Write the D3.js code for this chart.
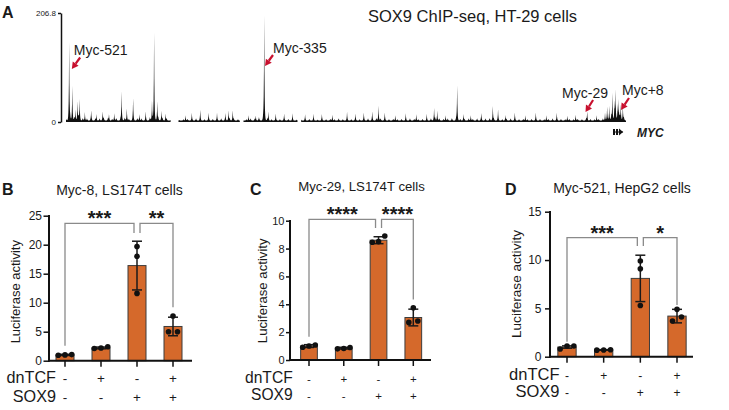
<!DOCTYPE html>
<html><head><meta charset="utf-8">
<script src="https://cdn.jsdelivr.net/npm/d3@7"></script>
<style>
body{margin:0;background:#fff}
svg{display:block}
text{font-family:"Liberation Sans",Arial,Helvetica,sans-serif;fill:#1a1a1a}
</style>
</head><body>
<svg id="c" width="729" height="410"></svg>
<script>
// ================= Panel A data =================
const trackTitle = "SOX9 ChIP-seq, HT-29 cells";
const trackMax = 206.8;
const trackTickLabels = ["0", "206.8"];
const trackKbRange = [-524, 10];
const bgStartKb = -524, bgStepKb = 4;
const bgSignal = [
  5,9,8,10,7,6,8,5,6,7,
  6,5,7,6,8,5,6,7,6,5,
  9,10,8,7,5,3,2,2,4,5,
  4,6,5,4,7,5,4,6,5,6,
  5,4,3,4,6,5,9,7,5,4,
  5,4,6,5,4,3,5,4,5,4,
  3,5,4,5,4,6,4,5,4,5,
  4,5,6,5,7,6,5,4,5,4,
  5,4,6,5,4,5,4,6,7,6,
  5,6,7,6,5,4,6,5,6,5,
  6,7,5,6,4,5,6,5,4,5,
  4,5,6,5,4,5,6,4,5,4,
  5,4,5,4,6,5,4,5,6,9,
  14,16,12,8
];
const gapsKb = [[-424, -417], [-358, -355], [-303, -300]];
const peakKb = [
  -521,-518,-515,-513,-511,-506,-500,-495,-489,-483,-478,-471,-466,-460,-454,-448,-442,-440,-437,-433,-429,
  -410,-404,-396,-388,-380,-372,-369,-365,
  -350,-343,-335,-331,-324,-316,-308,
  -296,-288,-280,-270,-256,-248,-240,-232,-226,-220,-210,-200,-190,-180,-173,-170,-162,-151,-145,-138,-128,
  -117,-112,-105,-96,-86,-76,-66,-56,-46,-38,-27,-18,-10,-8,-6,-3,-1,0,2,3,5,7
];
const peakSignal = [
  148,66,20,36,40,16,14,12,17,12,14,55,23,38,12,14,38,159,36,18,13,
  10,12,17,10,12,11,19,19,
  10,9,199,17,10,9,11,
  9,10,9,11,13,10,12,14,28,12,10,11,12,10,23,19,10,66,12,10,11,
  27,17,10,12,10,11,10,12,9,11,17,10,15,20,28,51,35,46,30,38,30,27
];
const annoLabels = ["Myc-521", "Myc-335", "Myc-29", "Myc+8"];
const annoKb = [-521, -335, -29, 8];
const geneName = "MYC";
const geneExonsKb = [[-2.4, -0.5], [0.5, 2.4]];
const geneArrowKb = [3.3, 7.2];

// ================= Panels B-D data =================
const groups = ["g1", "g2", "g3", "g4"];
const rowLabels = ["dnTCF", "SOX9"];
const dnTCF = ["-", "+", "-", "+"];
const sox9 = ["-", "-", "+", "+"];
const yLabel = "Luciferase activity";

const titleB = "Myc-8, LS174T cells";
const meanB = [1.0, 2.2, 16.4, 5.9];
const sdB = [0.1, 0.15, 4.2, 1.6];
const dotsB = [[0.95, 1.05, 1.0], [2.1, 2.4, 2.2], [19.7, 18.0, 11.6], [7.7, 5.0, 5.0]];
const ticksB = [0, 5, 10, 15, 20, 25];
const starsB = ["***", "**"];

const titleC = "Myc-29, LS174T cells";
const meanC = [1.0, 0.85, 8.6, 3.05];
const sdC = [0.1, 0.06, 0.25, 0.6];
const dotsC = [[0.92, 1.08, 1.0], [0.8, 0.9, 0.83], [8.9, 8.45, 8.5], [3.75, 2.7, 2.8]];
const ticksC = [0, 2, 4, 6, 8, 10];
const starsC = ["****", "****"];

const titleD = "Myc-521, HepG2 cells";
const meanD = [1.0, 0.7, 8.1, 4.2];
const sdD = [0.12, 0.03, 2.4, 0.7];
const dotsD = [[0.8, 1.1, 1.1], [0.7, 0.68, 0.72], [9.9, 9.1, 5.3], [4.9, 4.1, 3.7]];
const ticksD = [0, 5, 10, 15];
const starsD = ["***", "*"];

// ================= Drawing =================
const svg = d3.select("#c");
const FONT = '"Liberation Sans",Arial,Helvetica,sans-serif';
const RED = "#c8102e";

// ---------- Panel A ----------
(function(){
  const g = svg.append("g");
  g.append("text").attr("x", 2).attr("y", 18).attr("font-size", 16).attr("font-weight", "bold").text("A");
  g.append("text").attr("x", 368).attr("y", 22).attr("font-size", 16.5).text(trackTitle);

  const x = d3.scaleLinear().domain(trackKbRange).range([66, 626]);
  const y = d3.scaleLinear().domain([0, trackMax]).range([122, 13]);

  const kern = (d, w) => Math.exp(-Math.abs(d) / w);
  const bgKb = bgSignal.map((v, i) => bgStartKb + i * bgStepKb);
  const inGap = kb => gapsKb.some(([a, b]) => kb >= a && kb <= b);
  const grid = d3.range(trackKbRange[0], trackKbRange[1] + 0.001, 0.25);
  const pts = grid.map(kb => {
    let v = 2.5;
    bgKb.forEach((bk, i) => { v += bgSignal[i] * 0.75 * kern(kb - bk, 0.55); });
    peakKb.forEach((pk, i) => { v += peakSignal[i] * kern(kb - pk, 0.33); });
    return {kb, v: Math.min(v, trackMax)};
  });
  const area = d3.area().defined(d => !inGap(d.kb))
    .x(d => x(d.kb)).y0(y(0)).y1(d => y(d.v));
  g.append("path").datum(pts).attr("d", area).attr("fill", "#111");

  // scale bar axis
  const ax = d3.axisLeft(y).tickValues([0, trackMax]).tickFormat((d, i) => trackTickLabels[i])
    .tickSize(3).tickSizeOuter(0).tickPadding(2);
  const ag = g.append("g").attr("transform", "translate(61,0)").call(ax);
  ag.select(".domain").attr("stroke", "#111").attr("stroke-width", 1.5);
  ag.selectAll(".tick line").attr("stroke", "#111").attr("stroke-width", 1.5);
  ag.selectAll(".tick text").attr("font-size", 8).attr("font-family", FONT).attr("fill", "#333");

  // annotations (layout offsets relative to annotated position)
  const lay = [
    {tipDx: 2.7, tipY: 69, tailDx: 11, tailY: 57.5, tx: 4.7, ty: 55, anchor: "start"},
    {tipDx: 0.8, tipY: 66, tailDx: 8.8, tailY: 55, tx: 8.8, ty: 52.7, anchor: "start"},
    {tipDx: 0.4, tipY: 112, tailDx: 8, tailY: 100, tx: 22.9, ty: 98.3, anchor: "end"},
    {tipDx: -2.9, tipY: 110, tailDx: 5.1, tailY: 98, tx: -1.9, ty: 95, anchor: "start"}
  ];
  annoLabels.forEach((lab, i) => {
    const L = lay[i], px = x(annoKb[i]);
    const tip = [px + L.tipDx, L.tipY], tail = [px + L.tailDx, L.tailY];
    const ang = Math.atan2(tip[1] - tail[1], tip[0] - tail[0]);
    const hl = 6.5, hw = 3.6;
    const bx = tip[0] - hl * Math.cos(ang), by = tip[1] - hl * Math.sin(ang);
    g.append("line").attr("x1", tail[0]).attr("y1", tail[1]).attr("x2", bx).attr("y2", by)
      .attr("stroke", RED).attr("stroke-width", 2.2);
    g.append("path").attr("d", d3.line()([
      tip,
      [bx + hw * Math.sin(ang), by - hw * Math.cos(ang)],
      [bx - hw * Math.sin(ang), by + hw * Math.cos(ang)]
    ]) + "Z").attr("fill", RED);
    g.append("text").attr("x", px + L.tx).attr("y", L.ty).attr("font-size", 14)
      .attr("text-anchor", L.anchor).text(lab);
  });

  // gene model
  const gy = 132;
  g.append("line").attr("x1", x(geneExonsKb[0][0])).attr("x2", x(geneArrowKb[1]))
    .attr("y1", gy).attr("y2", gy).attr("stroke", "#111").attr("stroke-width", 1);
  geneExonsKb.forEach(([a, b]) => {
    g.append("rect").attr("x", x(a)).attr("y", gy - 3).attr("width", x(b) - x(a)).attr("height", 6).attr("fill", "#111");
  });
  g.append("path").attr("d", d3.line()([[x(geneArrowKb[0]), gy - 3.5], [x(geneArrowKb[1]), gy], [x(geneArrowKb[0]), gy + 3.5]]) + "Z")
    .attr("fill", "#111");
  g.append("text").attr("x", 637).attr("y", 137).attr("font-size", 12).attr("font-weight", "bold")
    .attr("font-style", "italic").text(geneName);
})();

// ---------- Panels B-D ----------
const panels = [
  {letter: "B", title: titleB, mean: meanB, sd: sdB, dots: dotsB, ticks: ticksB, stars: starsB,
   ax: 49, right: 192, y0: 360.7, yTop: 215.7, cx: [65, 173], bw: 18,
   fTick: 12, fYlab: 13, fRow: 16.2, fSign: 13.5, fTitle: 14, tickSize: 5.5, tickPad: 1.5,
   ylabX: 19.5, ylabY: 291.7, titleX: 119.5, titleY: 195, letterX: 2, letterY: 195,
   row1: 383, row2: 402, labRight: 56, bracketY: 223.3, legShort: 9.7, gap: 6},
  {letter: "C", title: titleC, mean: meanC, sd: sdC, dots: dotsC, ticks: ticksC, stars: starsC,
   ax: 290, right: 431, y0: 360, yTop: 220.7, cx: [309, 413.3], bw: 16.7,
   fTick: 11, fYlab: 13.2, fRow: 15.6, fSign: 11.5, fTitle: 13.2, tickSize: 4, tickPad: 1.5,
   ylabX: 267, ylabY: 290.8, titleX: 361.5, titleY: 191, letterX: 250, letterY: 195,
   row1: 383, row2: 399.5, labRight: 292.7, bracketY: 219.3, legShort: 8.7, gap: 5.5},
  {letter: "D", title: titleD, mean: meanD, sd: sdD, dots: dotsD, ticks: ticksD, stars: starsD,
   ax: 550, right: 693, y0: 356.7, yTop: 211.7, cx: [567, 677], bw: 18.3,
   fTick: 12, fYlab: 13.6, fRow: 16.5, fSign: 12, fTitle: 14, tickSize: 5, tickPad: 3.5,
   ylabX: 521, ylabY: 284, titleX: 622, titleY: 193, letterX: 505, letterY: 195,
   row1: 380, row2: 397, labRight: 559.5, bracketY: 237.7, legShort: 8.3, gap: 1.5}
];

const R = 2.8;
panels.forEach(p => {
  const g = svg.append("g");
  const xs = d3.scalePoint().domain(groups).range(p.cx);
  const ymax = p.ticks[p.ticks.length - 1];
  const ys = d3.scaleLinear().domain([0, ymax]).range([p.y0, p.yTop]);

  g.append("text").attr("x", p.letterX).attr("y", p.letterY).attr("font-size", 16).attr("font-weight", "bold").text(p.letter);
  g.append("text").attr("x", p.titleX).attr("y", p.titleY).attr("font-size", p.fTitle).attr("text-anchor", "middle").text(p.title);

  // bars
  g.selectAll("rect.bar").data(p.mean).join("rect").attr("class", "bar")
    .attr("x", (d, i) => xs(groups[i]) - p.bw / 2).attr("y", d => ys(d))
    .attr("width", p.bw).attr("height", d => ys(0) - ys(d))
    .attr("fill", "#d5692b").attr("stroke", "#3c3c3c").attr("stroke-width", 1);

  // error bars
  p.mean.forEach((m, i) => {
    const cx = xs(groups[i]), t = ys(m + p.sd[i]), b = ys(m - p.sd[i]);
    g.append("line").attr("x1", cx).attr("x2", cx).attr("y1", t).attr("y2", b).attr("stroke", "#1a1a1a").attr("stroke-width", 1.5);
    [t, b].forEach(yy => g.append("line").attr("x1", cx - 5).attr("x2", cx + 5).attr("y1", yy).attr("y2", yy)
      .attr("stroke", "#1a1a1a").attr("stroke-width", 1.5));
  });

  // dots: overlapping points are spread symmetrically
  p.dots.forEach((vals, i) => {
    const cx = xs(groups[i]);
    const sorted = vals.map(v => ({v, py: ys(v)})).sort((a, b) => b.py - a.py);
    const clusters = [];
    sorted.forEach(d => {
      const last = clusters[clusters.length - 1];
      if (last && Math.abs(last[last.length - 1].py - d.py) < 2 * R + 0.3) last.push(d); else clusters.push([d]);
    });
    clusters.forEach(cl => {
      const n = cl.length;
      const span = Math.min((n - 1) * 9, p.bw * 0.75);
      cl.forEach((d, k) => {
        const off = n === 1 ? 0 : -span / 2 + span * k / (n - 1);
        g.append("circle").attr("cx", cx + off).attr("cy", d.py).attr("r", R).attr("fill", "#111");
      });
    });
  });

  // axes
  const yAx = d3.axisLeft(ys).tickValues(p.ticks).tickSize(p.tickSize).tickSizeOuter(0).tickPadding(p.tickPad);
  const ag = g.append("g").attr("transform", `translate(${p.ax},0)`).call(yAx);
  ag.select(".domain").remove();
  ag.selectAll(".tick line").attr("stroke", "#111").attr("stroke-width", 1.5);
  ag.selectAll(".tick text").attr("font-size", p.fTick).attr("font-family", FONT).attr("fill", "#1a1a1a");
  g.append("line").attr("x1", p.ax).attr("x2", p.ax).attr("y1", ys(ymax) - 0.75).attr("y2", ys(0) + 1)
    .attr("stroke", "#111").attr("stroke-width", 2);
  g.append("line").attr("x1", p.ax - 1).attr("x2", p.right).attr("y1", ys(0)).attr("y2", ys(0))
    .attr("stroke", "#111").attr("stroke-width", 2);
  groups.forEach(gr => g.append("line").attr("x1", xs(gr)).attr("x2", xs(gr))
    .attr("y1", ys(0)).attr("y2", ys(0) + 6).attr("stroke", "#111").attr("stroke-width", 1.5));

  g.append("text").attr("transform", `translate(${p.ylabX},${p.ylabY}) rotate(-90)`)
    .attr("text-anchor", "middle").attr("font-size", p.fYlab).text(yLabel);

  // condition rows
  [dnTCF, sox9].forEach((row, r) => {
    const yy = r === 0 ? p.row1 : p.row2;
    g.append("text").attr("x", p.labRight).attr("y", yy).attr("text-anchor", "end").attr("font-size", p.fRow).text(rowLabels[r]);
    row.forEach((s, i) => g.append("text").attr("x", xs(groups[i])).attr("y", yy)
      .attr("text-anchor", "middle").attr("font-size", p.fSign).text(s));
  });

  // significance brackets
  const dataTop = i => Math.min(ys(p.mean[i] + p.sd[i]), ys(d3.max(p.dots[i])) - R);
  const pairs = [[0, 2, 0, -3], [2, 3, 3, 0]];
  pairs.forEach(([a, b, da, db], k) => {
    const xa = xs(groups[a]) + da, xb = xs(groups[b]) + db, by = p.bracketY;
    const legA = a === 2 ? by + p.legShort : dataTop(a) - p.gap;
    const legB = b === 2 ? by + p.legShort : dataTop(b) - p.gap;
    g.append("path").attr("d", d3.line()([[xa, legA], [xa, by], [xb, by], [xb, legB]]))
      .attr("fill", "none").attr("stroke", "#8a8a8a").attr("stroke-width", 1.3);
    g.append("text").attr("x", (xa + xb) / 2).attr("y", by + 2).attr("text-anchor", "middle")
      .attr("font-size", 20).attr("font-weight", "bold").text(p.stars[k]);
  });
});
</script>
</body></html>
